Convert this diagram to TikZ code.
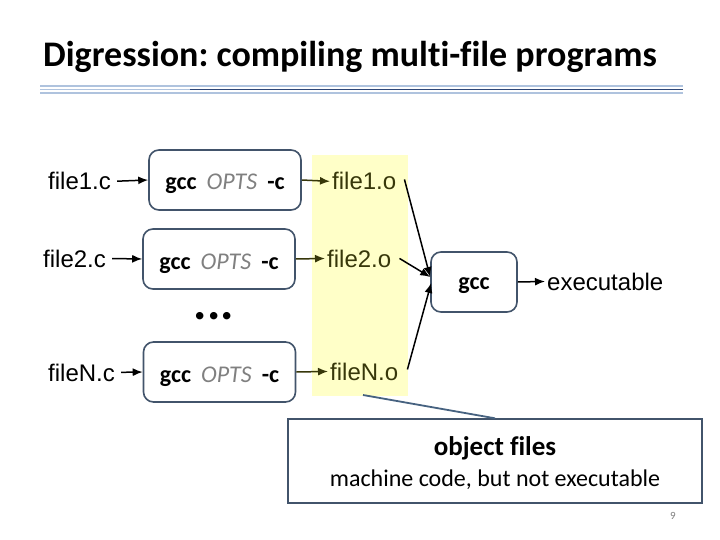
\documentclass[tikz,border=0pt]{standalone}
\usepackage{fontspec}
\setmainfont{Carlito}[Ligatures=NoCommon]
\newfontfamily\arialf{Liberation Sans}
\usetikzlibrary{arrows.meta}
\definecolor{slate}{RGB}{66,84,107}
\definecolor{ptr}{RGB}{70,98,128}
\definecolor{olive}{RGB}{55,55,10}
\definecolor{ybg}{RGB}{255,255,200}
\definecolor{optsgray}{RGB}{128,128,128}
\definecolor{lightrule}{RGB}{175,195,222}
\definecolor{darkrule}{RGB}{45,70,120}
\frenchspacing
\begin{document}
\begin{tikzpicture}[x=1pt,y=-1pt,
  ftxt/.style={anchor=base west,inner sep=0pt,font=\arialf\fontsize{24}{28}\selectfont},
  otxt/.style={ftxt,text=olive},
  procbox/.style={draw=slate,line width=1.6pt,rounded corners=10pt,minimum width=152pt,minimum height=60pt,
     text height=20pt,text depth=0pt,inner sep=0pt,font=\fontsize{24}{28}\selectfont},
  arr/.style={line width=1.5pt,-{Latex[length=10pt,width=8pt]}},
  oarr/.style={arr,draw=olive},
]
\useasboundingbox (0,0) rectangle (720,540);
\fill[white] (0,0) rectangle (720,540);
% title
\node[anchor=base west,inner sep=0pt,font=\bfseries\fontsize{36}{40}\selectfont] (title) at (43,67) {Digression: compiling multi-file programs};
% rules
\draw[lightrule,line width=1.2pt] (40,86) -- (683,86);
\draw[lightrule,line width=1.2pt] (40,89.5) -- (190,89.5);
\draw[darkrule,line width=1.6pt] (190,89.5) -- (683,89.5);
\draw[lightrule,line width=1.2pt] (40,93) -- (683,93);
% yellow background
\fill[ybg] (312,155) rectangle (408,396);
% sources
\node[ftxt] (f1c) at (48,190) {file1.c};
\node[ftxt] (f2c) at (43,267) {file2.c};
\node[ftxt] (fNc) at (48,381) {fileN.c};
% compile boxes
\newcommand{\gcccmd}{\textbf{gcc}\hspace{0.42em}{\color{optsgray}\itshape OPTS}\hspace{0.42em}\textbf{-c}}
\node[procbox] (b1) at (225,180) {\gcccmd};
\node[procbox] (b2) at (219,259) {\gcccmd};
\node[procbox] (b3) at (219.5,372) {\gcccmd};
\node[anchor=base,inner sep=0pt,font=\bfseries\fontsize{50}{50}\selectfont] (dots) at (214,319) {...};
% object files
\node[otxt] (f1o) at (332,190) {file1.o};
\node[otxt] (f2o) at (327,267) {file2.o};
\node[otxt] (fNo) at (330,380) {fileN.o};
% link box
\node[procbox,minimum width=86pt,minimum height=60pt,text height=14pt] (g) at (474,282) {\textbf{gcc}};
\node[ftxt] (exe) at (547,290) {executable};
% arrows
\draw[arr,shorten <=6pt] (f1c.east) -- (b1.west);
\draw[arr,shorten <=6pt] (f2c.east) -- (b2.west);
\draw[arr,shorten <=6pt] (fNc.east) -- (b3.west);
\draw[oarr,shorten >=2pt] (b1.east) -- (f1o.west);
\draw[oarr,shorten >=2pt] (b2.east) -- (f2o.west);
\draw[oarr,shorten >=2pt] (b3.east) -- (fNo.west);
\draw[arr] ([shift={(8,7)}]f1o.north east) -- ([shift={(0,-5)}]g.west);
\draw[arr] ([shift={(8,0)}]f2o.east) -- ([shift={(0,-5)}]g.west);
\draw[arr] ([shift={(9,-2)}]fNo.east) -- ([shift={(1,1)}]g.west);
\draw[arr,shorten >=2pt] (g.east) -- (exe.west);
% callout
\coordinate (ptail) at (363,395);
\node[draw=slate,fill=white,line width=1.4pt,minimum width=414pt,minimum height=84pt,inner sep=0pt] (co) at (495,461) {};
\draw[ptr,line width=1.8pt] (ptail) -- (co.north);
\node[anchor=base,inner sep=0pt,font=\bfseries\fontsize{27}{30}\selectfont] (cot) at (495,455) {object files};
\node[anchor=base,inner sep=0pt,font=\fontsize{24}{28}\selectfont] (cos) at (495,486) {machine code, but not executable};
% page number
\node[anchor=base,inner sep=0pt,text=optsgray,font=\fontsize{11}{13}\selectfont] (pg) at (673,519) {9};
\end{tikzpicture}
\end{document}
